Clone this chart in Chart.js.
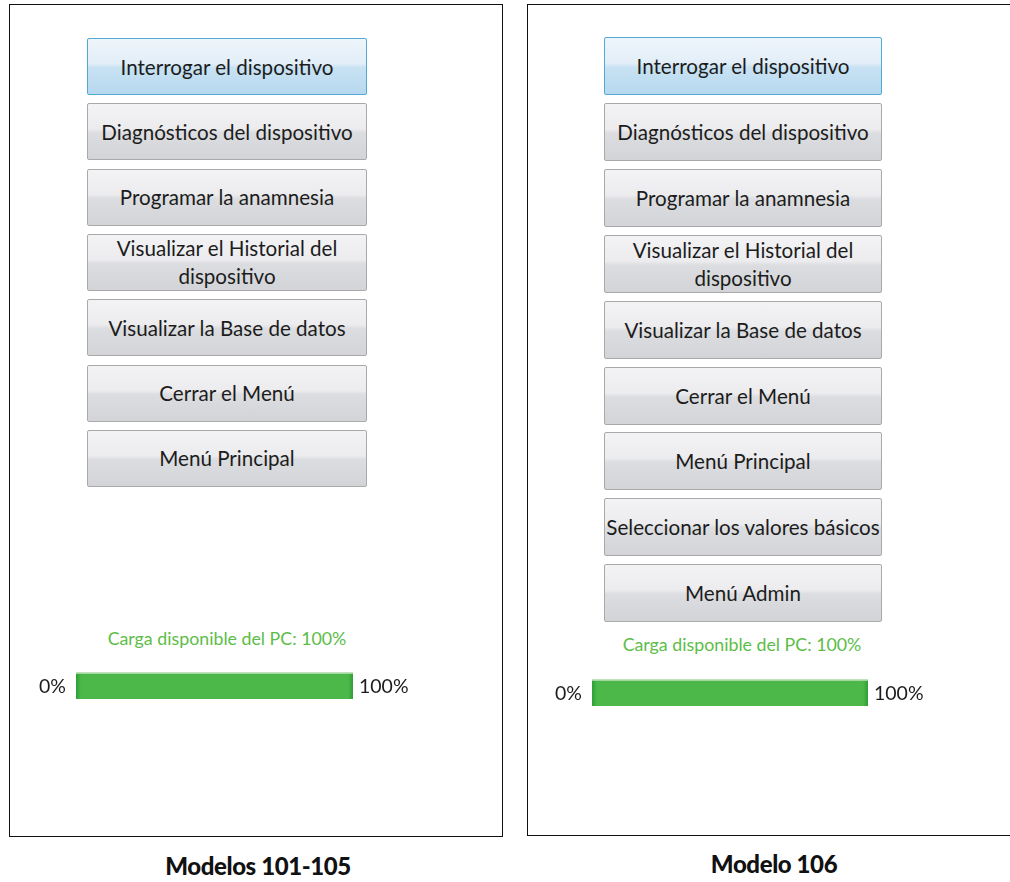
<!DOCTYPE html>
<html>
<head>
<meta charset="utf-8">
<script src="https://cdn.jsdelivr.net/npm/chart.js@4"></script>
<style>
  html,body{margin:0;padding:0;background:#fff;}
  body{width:1010px;height:882px;position:relative;overflow:hidden;font-family:Lato,"Open Sans",sans-serif;}
  .panel{position:absolute;border:1.5px solid #111;box-sizing:border-box;}
  .btn{position:absolute;box-sizing:border-box;border:1px solid #a9a9a9;border-radius:2px;
       background:linear-gradient(#f3f3f5 0%,#ececef 45%,#dcdde0 52%,#d3d4d7 100%);
       display:flex;align-items:center;justify-content:center;text-align:center;
       font-size:20.6px;color:#1c1c1c;line-height:28px;}
  .btn.sel{border:1px solid #52a9d3;background:linear-gradient(#eef5fb 0%,#e2eef8 45%,#c8e2f3 52%,#b7d8ef 100%);}
  .lbl{position:absolute;color:#5cbd48;font-size:17.8px;text-align:center;white-space:nowrap;}
  .cap{position:absolute;font-weight:900;font-size:24px;color:#111;text-align:center;white-space:nowrap;letter-spacing:-0.4px;}
  canvas.pb{position:absolute;}
</style>
</head>
<body>
<div class="panel" style="left:9px;top:4px;width:494px;height:833px;"></div>
<div class="panel" style="left:527px;top:4px;width:500px;height:832px;"></div>
<div id="menuA"></div>
<div id="menuB"></div>
<div class="lbl" id="lblA" style="left:77px;width:300px;top:627px;"></div>
<div class="lbl" id="lblB" style="left:592px;width:300px;top:633px;"></div>
<canvas class="pb" id="barA" width="400" height="40" style="left:30px;top:665px;width:400px;height:40px;"></canvas>
<canvas class="pb" id="barB" width="400" height="40" style="left:546px;top:672px;width:400px;height:40px;"></canvas>
<div class="cap" style="left:108px;width:300px;top:851px;">Modelos 101-105</div>
<div class="cap" style="left:624px;width:300px;top:849px;">Modelo 106</div>
<script>
// ---- data ----
const menuItemsA = ["Interrogar el dispositivo","Diagnósticos del dispositivo","Programar la anamnesia","Visualizar el Historial del dispositivo","Visualizar la Base de datos","Cerrar el Menú","Menú Principal"];
const menuItemsB = ["Interrogar el dispositivo","Diagnósticos del dispositivo","Programar la anamnesia","Visualizar el Historial del dispositivo","Visualizar la Base de datos","Cerrar el Menú","Menú Principal","Seleccionar los valores básicos","Menú Admin"];
const chargeCategories = ["Carga disponible del PC"];
const chargeA = [100];
const chargeB = [100];
const scaleTickLabels = ["0%","100%"];
const scaleRange = [0,100];

// ---- menus ----
function buildMenu(id, items, left, top0, step, width, height){
  const host = document.getElementById(id);
  items.forEach((t,i)=>{
    const d=document.createElement('div');
    d.className='btn'+(i===0?' sel':'');
    d.style.left=left+'px'; d.style.top=(top0+i*step)+'px';
    d.style.width=width+'px'; d.style.height=height+'px';
    d.textContent=t;
    host.appendChild(d);
  });
}
buildMenu('menuA', menuItemsA, 87, 38, 65.3, 280, 57);
buildMenu('menuB', menuItemsB, 604, 37, 65.9, 278, 58);
document.getElementById('lblA').textContent = chargeCategories[0]+': '+chargeA[0]+'%';
document.getElementById('lblB').textContent = chargeCategories[0]+': '+chargeB[0]+'%';

// ---- progress bars ----
const endLabels = {
  id:'endLabels',
  afterDatasetsDraw(chart){
    const {ctx, chartArea, scales:{x}} = chart;
    const yc = (chartArea.top+chartArea.bottom)/2+1;
    ctx.save();
    ctx.font = '19.5px Lato, "Open Sans", sans-serif';
    ctx.fillStyle = '#1c1c1c';
    ctx.textBaseline = 'middle';
    ctx.textAlign = 'right';
    ctx.fillText(scaleTickLabels[0], x.getPixelForValue(scaleRange[0]) - 10, yc);
    ctx.textAlign = 'left';
    ctx.fillText(scaleTickLabels[1], x.getPixelForValue(scaleRange[1]) + 6, yc);
    ctx.restore();
  }
};
function greenFill(context){
  const {chart} = context; const ca = chart.chartArea;
  if(!ca) return '#4cb84a';
  const g = chart.ctx.createLinearGradient(ca.left,0,ca.right,0);
  g.addColorStop(0,'#2e9e36'); g.addColorStop(0.018,'#4cb84a');
  g.addColorStop(0.982,'#4cb84a'); g.addColorStop(1,'#2e9e36');
  return g;
}
function makeBar(id, values, padL, padR){
  new Chart(document.getElementById(id),{
    type:'bar',
    data:{labels:chargeCategories,datasets:[{data:values,backgroundColor:greenFill,
      borderColor:'#bfe2bc',borderWidth:{top:2,left:0,right:0,bottom:0},borderSkipped:false,
      barPercentage:1,categoryPercentage:1}]},
    options:{indexAxis:'y',responsive:false,animation:false,
      layout:{padding:{left:padL,right:padR,top:7,bottom:6}},
      plugins:{legend:{display:false},tooltip:{enabled:false}},
      scales:{x:{display:false,min:scaleRange[0],max:scaleRange[1]},y:{display:false}}},
    plugins:[endLabels]
  });
}
makeBar('barA', chargeA, 46, 77);
makeBar('barB', chargeB, 46, 78);
</script>
</body>
</html>
